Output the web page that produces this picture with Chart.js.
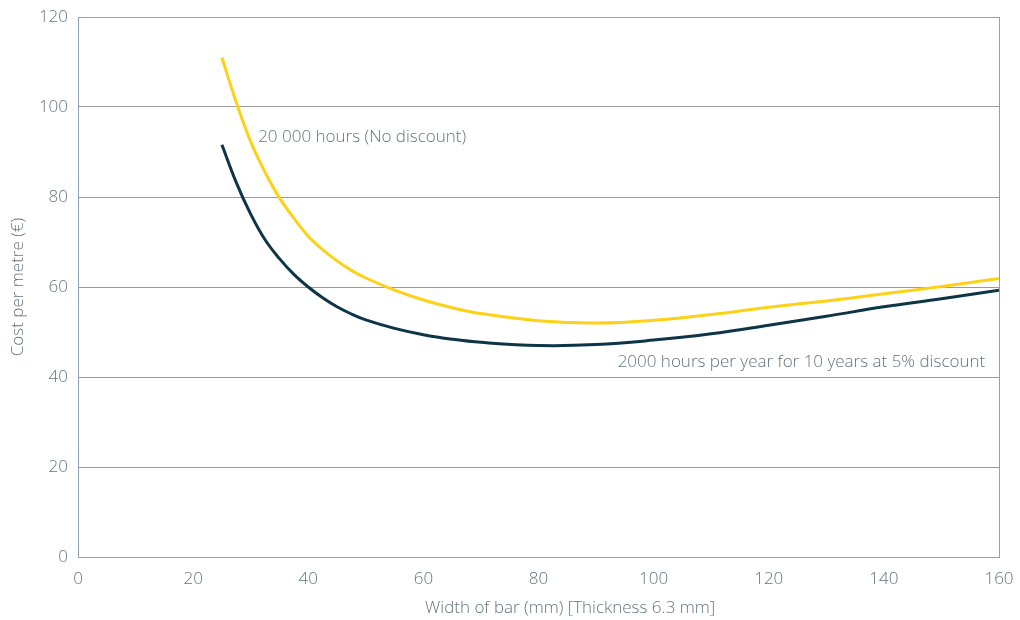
<!DOCTYPE html>
<html>
<head>
<meta charset="utf-8">
<script src="https://cdn.jsdelivr.net/npm/chart.js@4"></script>
<style>
  html, body { margin: 0; padding: 0; background: #fff; }
  #wrap { width: 1020px; height: 620px; }
</style>
</head>
<body>
<div id="wrap"><canvas id="costChart"></canvas></div>
<script>
// bar width (mm)
var widths = [25, 27.5, 30, 32.5, 35, 37.5, 40, 42.5, 45, 47.5, 50, 55, 60, 65, 70, 80, 90, 100, 110, 120, 130, 140, 150, 160];
// 20 000 hours, no discount
var noDiscount = [111, 101, 92.3, 85.5, 79.8, 75.3, 71.3, 68.3, 65.8, 63.7, 62, 59.3, 57.1, 55.4, 54.1, 52.5, 52, 52.6, 53.9, 55.5, 56.9, 58.5, 60.1, 61.9];
// 2000 h/year for 10 years at 5%
var discounted = [91.6, 83.2, 76.2, 70.5, 66.3, 62.8, 60, 57.6, 55.6, 54, 52.7, 50.8, 49.4, 48.4, 47.7, 47, 47.2, 48.2, 49.6, 51.5, 53.5, 55.6, 57.4, 59.3];
var xTicks = [0, 20, 40, 60, 80, 100, 120, 140, 160];
var yTicks = [0, 20, 40, 60, 80, 100, 120];
var xTitle = 'Width of bar (mm) [Thickness 6.3 mm]';
// series labels, placed in data units
var labels = [
  { text: '20 000 hours (No discount)', x: 31.3, y: 93.3, align: 'left' },
  { text: '2000 hours per year for 10 years at 5% discount', x: 157.6, y: 43.3, align: 'right' }
];

var txtColor = '#66737d';
var frameColor = '#8da2b5';
var fontFam = "'Open Sans', 'Noto Sans', sans-serif";

function pts(ys) {
  return widths.map(function(w, i) { return { x: w, y: ys[i] }; });
}

var framePlugin = {
  id: 'frame',
  afterDraw: function(chart) {
    var ctx = chart.ctx, a = chart.chartArea;
    var xs = chart.scales.x, ys = chart.scales.y;
    ctx.save();
    ctx.strokeStyle = frameColor;
    ctx.lineWidth = 1;
    ctx.strokeRect(Math.round(a.left) + 0.5, Math.round(a.top) + 0.5, Math.round(a.right - a.left), Math.round(a.bottom - a.top));
    ctx.fillStyle = txtColor;
    ctx.font = '300 17px ' + fontFam;
    ctx.textBaseline = 'middle';
    labels.forEach(function(l) {
      ctx.textAlign = l.align;
      ctx.fillText(l.text, xs.getPixelForValue(l.x), ys.getPixelForValue(l.y));
    });
    // x axis title sits a bit right of centre in the original
    ctx.textAlign = 'center';
    ctx.fillText(xTitle, xs.getPixelForValue(85.5), a.bottom + 51);
    ctx.restore();
  }
};

new Chart(document.getElementById('costChart'), {
  type: 'line',
  data: {
    datasets: [{
      label: '20 000 hours (No discount)',
      data: pts(noDiscount),
      borderColor: '#fcd116',
      borderWidth: 3,
      pointRadius: 0,
      tension: 0.4
    }, {
      label: '2000 hours per year for 10 years at 5% discount',
      data: pts(discounted),
      borderColor: '#0d3547',
      borderWidth: 3,
      pointRadius: 0,
      tension: 0.4
    }]
  },
  options: {
    responsive: true,
    maintainAspectRatio: false,
    animation: false,
    layout: { padding: { top: 17, right: 21, left: 4, bottom: 0 } },
    plugins: { legend: { display: false }, tooltip: { enabled: false } },
    scales: {
      x: {
        type: 'linear', min: 0, max: 160,
        afterBuildTicks: function(s) { s.ticks = xTicks.map(function(v) { return { value: v }; }); },
        afterFit: function(s) { s.height = 63; s.paddingLeft = 0; s.paddingRight = 0; },
        grid: { display: false, drawTicks: false },
        border: { color: frameColor },
        ticks: { color: txtColor, padding: 12, font: { family: fontFam, size: 17, weight: 300 }, maxRotation: 0 },
        title: { display: false }
      },
      y: {
        min: 0, max: 120,
        afterBuildTicks: function(s) { s.ticks = yTicks.map(function(v) { return { value: v }; }); },
        afterFit: function(s) { s.width = 74; s.paddingTop = 0; s.paddingBottom = 0; },
        grid: { color: '#9a9a9a', drawTicks: false },
        border: { color: frameColor },
        ticks: { color: txtColor, padding: 10, font: { family: fontFam, size: 17, weight: 300 } },
        title: { display: true, text: 'Cost per metre (€)', color: txtColor, padding: { bottom: 4 }, font: { family: fontFam, size: 17, weight: 300 } }
      }
    }
  },
  plugins: [framePlugin]
});
</script>
</body>
</html>
